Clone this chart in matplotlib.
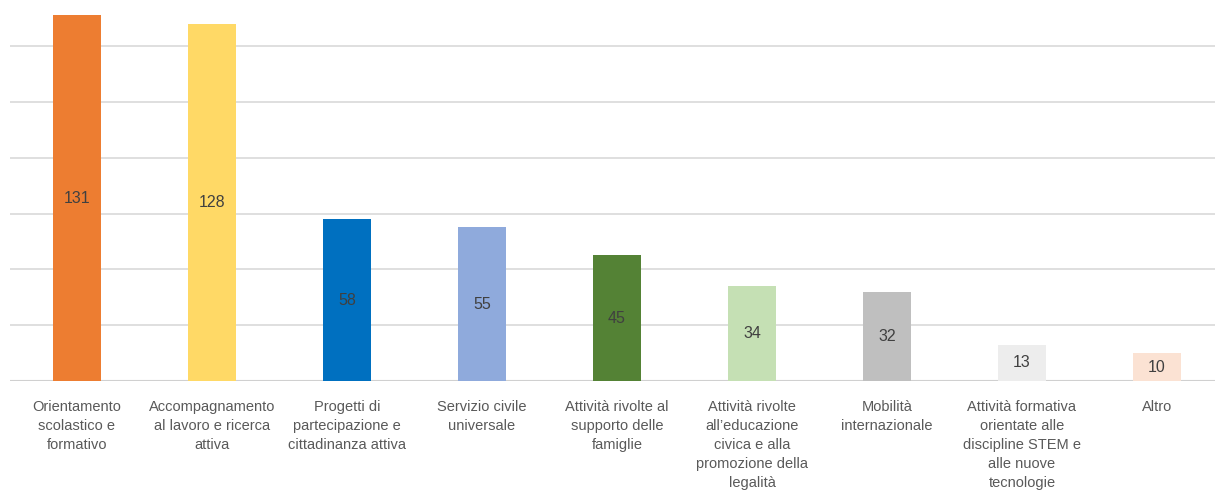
import numpy as np
import matplotlib.pyplot as plt

plt.rcParams['font.family'] = ['Liberation Sans', 'DejaVu Sans']

categories = [
    "Orientamento\nscolastico e\nformativo",
    "Accompagnamento\nal lavoro e ricerca\nattiva",
    "Progetti di\npartecipazione e\ncittadinanza attiva",
    "Servizio civile\nuniversale",
    "Attività rivolte al\nsupporto delle\nfamiglie",
    "Attività rivolte\nall\u2019educazione\ncivica e alla\npromozione della\nlegalità",
    "Mobilità\ninternazionale",
    "Attività formativa\norientate alle\ndiscipline STEM e\nalle nuove\ntecnologie",
    "Altro",
]
values = [131, 128, 58, 55, 45, 34, 32, 13, 10]
colors = ['#ED7D31', '#FFD966', '#0070C0', '#8FAADC', '#548235',
          '#C5E0B4', '#BFBFBF', '#EDEDED', '#FBE2D3']

fig = plt.figure(figsize=(12.2, 4.93), dpi=100)
ax = fig.add_axes([10 / 1220, 1 - 381 / 493, 1205 / 1220, 381 / 493])

x = np.arange(len(values))
bars = ax.bar(x, values, width=0.355, color=colors, zorder=3)

# etichette dentro le barre
for xi, v in zip(x, values):
    ax.text(xi, v / 2, str(v), ha='center', va='center', fontsize=11.5,
            color='#404040', zorder=4)

ax.set_xlim(-0.496, 8.43)
ax.set_ylim(0, 136.5)
ax.set_yticks(np.arange(20, 121, 20))
ax.yaxis.grid(True, color='#D9D9D9', linewidth=1.2, zorder=0)
ax.axhline(0, color='#D0D0D0', linewidth=1.5, zorder=2)
ax.tick_params(axis='y', left=False, labelleft=False)
ax.tick_params(axis='x', length=0, pad=14)
ax.set_xticks(x)
ax.set_xticklabels(categories, fontsize=10.5, color='#595959', linespacing=1.45, va='top')
for s in ax.spines.values():
    s.set_visible(False)

fig.savefig('out.png', dpi=100)
